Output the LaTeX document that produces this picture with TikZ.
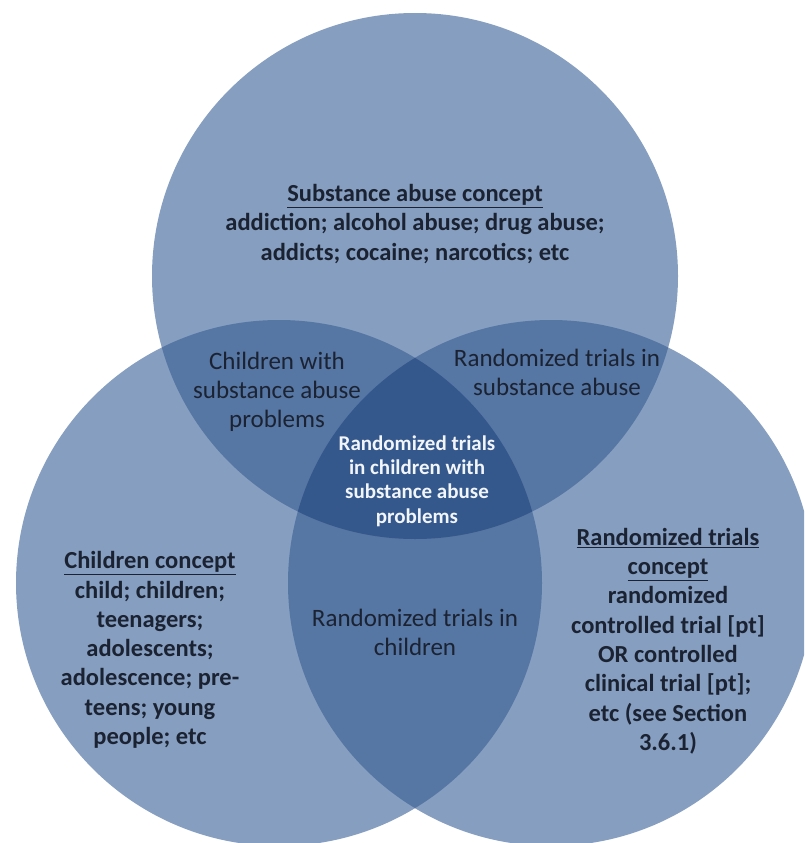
\documentclass[tikz,border=0pt]{standalone}
\usepackage{fontspec}
\setmainfont{Carlito}
\definecolor{oneset}{HTML}{869EC0}
\definecolor{twoset}{HTML}{5676A3}
\definecolor{threeset}{HTML}{34588C}
\definecolor{ink}{HTML}{1B2333}
\definecolor{paleink}{HTML}{F2F5FA}
\tikzset{
  concept/.style={align=center, text=ink, font=\bfseries\fontsize{24.5}{29.3}\selectfont, inner sep=0pt},
  overlap/.style={align=center, text=ink, font=\fontsize{25}{29}\selectfont, inner sep=0pt},
  core/.style={align=center, text=paleink, font=\bfseries\fontsize{21}{24.3}\selectfont, inner sep=0pt}
}
\begin{document}
\begin{tikzpicture}[x=1pt,y=-1pt]
\useasboundingbox (0,0) rectangle (804,843);
\clip (0,0) rectangle (804,843);
% circle centres
\coordinate (cS) at (415,276);
\coordinate (cC) at (279,583);
\coordinate (cR) at (551,583);
% single sets
\fill[oneset] (cS) circle[radius=263pt];
\fill[oneset] (cC) circle[radius=263pt];
\fill[oneset] (cR) circle[radius=263pt];
% pairwise overlaps
\begin{scope}
  \clip (cS) circle[radius=263pt];
  \fill[twoset] (cC) circle[radius=263pt];
  \fill[twoset] (cR) circle[radius=263pt];
\end{scope}
\begin{scope}
  \clip (cC) circle[radius=263pt];
  \fill[twoset] (cR) circle[radius=263pt];
\end{scope}
% triple overlap
\begin{scope}
  \clip (cS) circle[radius=263pt];
  \clip (cC) circle[radius=263pt];
  \fill[threeset] (cR) circle[radius=263pt];
\end{scope}
% labels
\node[concept] (subst) at (415,224) {\underline{Substance abuse concept}\\addiction; alcohol abuse; drug abuse;\\addicts; cocaine; narcotics; etc};
\node[concept] (kids) at (150,650) {\underline{Children concept}\\child; children;\\teenagers;\\adolescents;\\adolescence; pre-\\teens; young\\people; etc};
\node[concept] (rct) at (668,641) {\underline{Randomized trials}\\\underline{concept}\\randomized\\controlled trial [pt]\\OR controlled\\clinical trial [pt];\\etc (see Section\\3.6.1)};
\node[overlap] (kidsub) at (277,392) {Children with\\substance abuse\\problems};
\node[overlap] (rctsub) at (557,372) {Randomized trials in\\substance abuse};
\node[overlap] (rctkids) at (415,632) {Randomized trials in\\children};
\node[core] (all) at (417,481) {Randomized trials\\in children with\\substance abuse\\problems};
\end{tikzpicture}
\end{document}
